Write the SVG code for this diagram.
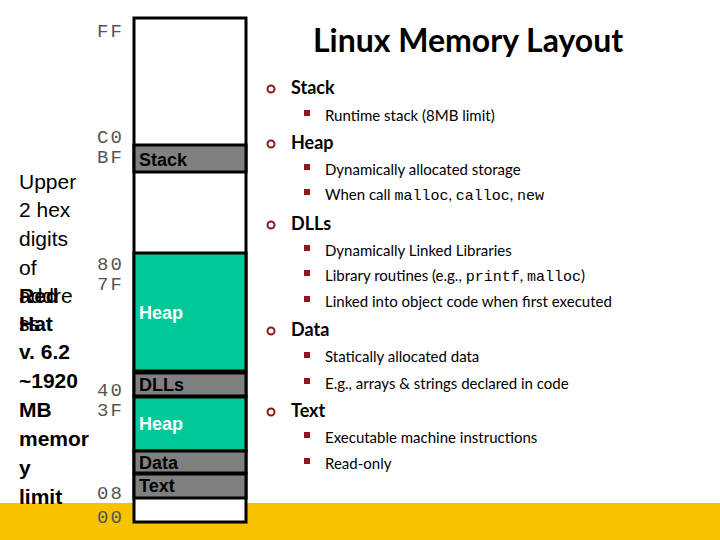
<svg xmlns="http://www.w3.org/2000/svg" width="720" height="540" viewBox="0 0 720 540">
<style>
.hex{font-family:"Liberation Mono",monospace;font-size:19px;fill:#555;letter-spacing:2px}
.lt{font-family:"Liberation Sans",Arial,sans-serif;font-size:21px;fill:#000}
.lb{font-family:"Liberation Sans",Arial,sans-serif;font-size:21px;font-weight:bold;fill:#000}
.seg{stroke:#000;stroke-width:3}
.sl{font-family:"Liberation Sans",Arial,sans-serif;font-size:18px;font-weight:bold}
.h{font-family:Lato,"Open Sans",sans-serif;font-size:18px;font-weight:bold;fill:#000}
.s{font-family:Lato,"Open Sans",sans-serif;font-size:15px;fill:#000}
.m{font-family:"Liberation Mono",monospace;font-size:15px}
.c{fill:none;stroke:#8b1a1a;stroke-width:2}
.q{fill:#8b1a1a}
</style>
<rect width="720" height="540" fill="#fff"/>
<rect x="0" y="503" width="720" height="37" fill="#f7c200"/>
<g id="memory">
<rect x="134" y="18" width="112" height="504" fill="#fff" class="seg"/>
<rect x="134" y="145" width="112" height="27" fill="#808080" class="seg"/>
<rect x="134" y="253" width="112" height="118" fill="#00c896" class="seg"/>
<rect x="134" y="373" width="112" height="23" fill="#808080" class="seg"/>
<rect x="134" y="397" width="112" height="54" fill="#00c896" class="seg"/>
<rect x="134" y="451" width="112" height="22" fill="#808080" class="seg"/>
<rect x="134" y="474" width="112" height="24" fill="#808080" class="seg"/>
<text x="139" y="166" class="sl" fill="#000">Stack</text>
<text x="139" y="319" class="sl" fill="#fff">Heap</text>
<text x="139" y="391" class="sl" fill="#000">DLLs</text>
<text x="139" y="430" class="sl" fill="#fff">Heap</text>
<text x="139" y="469" class="sl" fill="#000">Data</text>
<text x="139" y="492" class="sl" fill="#000">Text</text>
</g>
<g id="hex">
<text x="97" y="37" class="hex">FF</text>
<text x="97" y="143" class="hex">C0</text>
<text x="97" y="163" class="hex">BF</text>
<text x="97" y="270" class="hex">80</text>
<text x="97" y="290" class="hex">7F</text>
<text x="97" y="396" class="hex">40</text>
<text x="97" y="416" class="hex">3F</text>
<text x="97" y="499" class="hex">08</text>
<text x="97" y="523" class="hex">00</text>
</g>
<g id="lefttext">
<text x="19" y="189" class="lt">Upper</text>
<text x="19" y="217" class="lt">2 hex</text>
<text x="19" y="246" class="lt">digits</text>
<text x="19" y="275" class="lt">of</text>
<text x="19" y="303" class="lt">addre</text>
<text x="19" y="331" class="lt">ss</text>
<text x="19" y="303" class="lb">Red</text>
<text x="19" y="331" class="lb">Hat</text>
<text x="19" y="359" class="lb">v. 6.2</text>
<text x="19" y="388" class="lb">~1920</text>
<text x="19" y="417" class="lb">MB</text>
<text x="19" y="446" class="lb">memor</text>
<text x="19" y="475" class="lb">y</text>
<text x="19" y="504" class="lb">limit</text>
</g>
<g id="title"><text x="468" y="52" text-anchor="middle" font-family="Lato,'Open Sans',sans-serif" font-size="32" font-weight="bold">Linux Memory Layout</text></g>
<g id="list">
<circle cx="271" cy="89" r="3.5" class="c"/><text x="291" y="94" class="h">Stack</text>
<rect x="304" y="110" width="6" height="6" class="q"/><text x="325" y="121" class="s">Runtime stack (8MB limit)</text>
<circle cx="271" cy="144" r="3.5" class="c"/><text x="291" y="149" class="h">Heap</text>
<rect x="304" y="164" width="6" height="6" class="q"/><text x="325" y="175" class="s">Dynamically allocated storage</text>
<rect x="304" y="189" width="6" height="6" class="q"/><text x="325" y="200" class="s">When call <tspan class="m">malloc</tspan>, <tspan class="m">calloc</tspan>, <tspan class="m">new</tspan></text>
<circle cx="271" cy="225" r="3.5" class="c"/><text x="291" y="230" class="h">DLLs</text>
<rect x="304" y="245" width="6" height="6" class="q"/><text x="325" y="256" class="s">Dynamically Linked Libraries</text>
<rect x="304" y="270" width="6" height="6" class="q"/><text x="325" y="281" class="s">Library routines (e.g., <tspan class="m">printf</tspan>, <tspan class="m">malloc</tspan>)</text>
<rect x="304" y="296" width="6" height="6" class="q"/><text x="325" y="307" class="s">Linked into object code when first executed</text>
<circle cx="271" cy="331" r="3.5" class="c"/><text x="291" y="336" class="h">Data</text>
<rect x="304" y="352" width="6" height="6" class="q"/><text x="325" y="362" class="s">Statically allocated data</text>
<rect x="304" y="378" width="6" height="6" class="q"/><text x="325" y="389" class="s">E.g., arrays &amp; strings declared in code</text>
<circle cx="271" cy="412" r="3.5" class="c"/><text x="291" y="417" class="h">Text</text>
<rect x="304" y="432" width="6" height="6" class="q"/><text x="325" y="443" class="s">Executable machine instructions</text>
<rect x="304" y="458" width="6" height="6" class="q"/><text x="325" y="469" class="s">Read-only</text>
</g>
</svg>
